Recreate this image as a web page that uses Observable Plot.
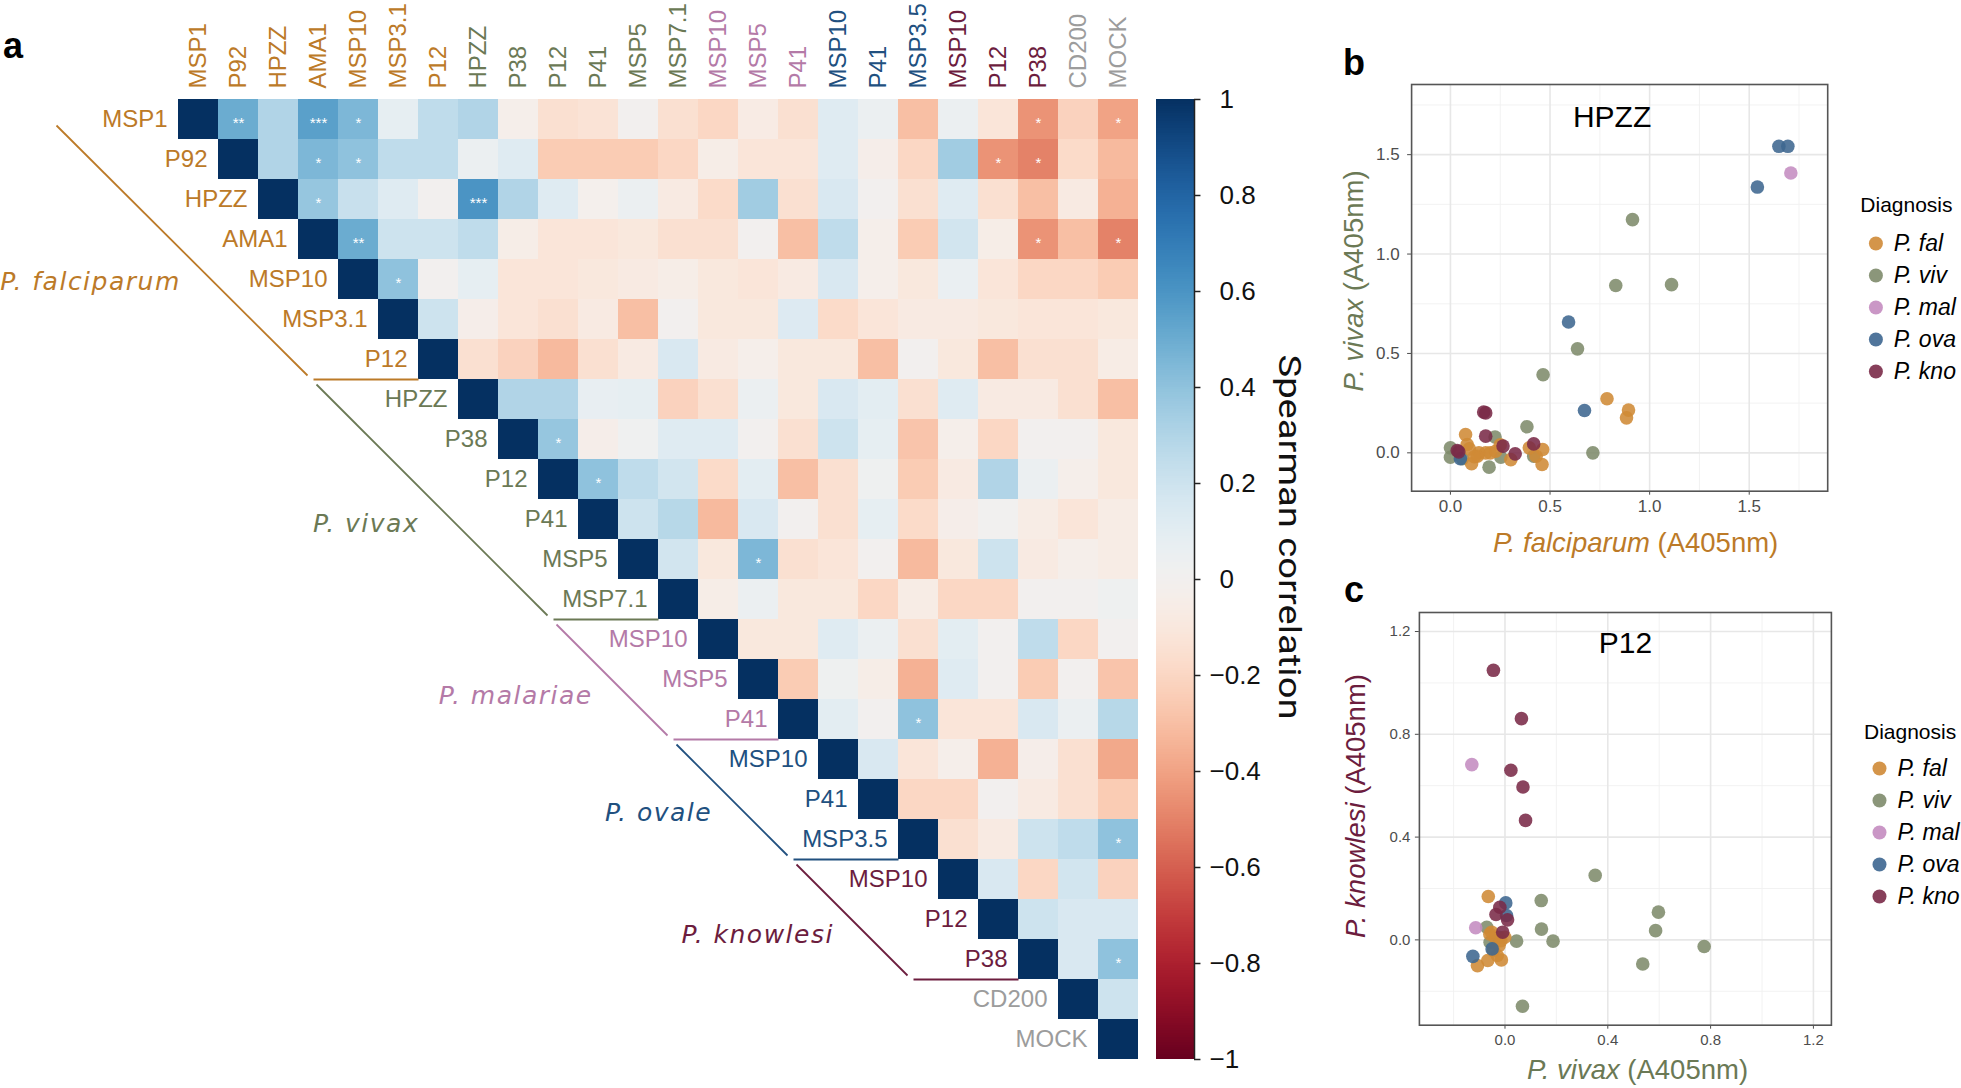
<!DOCTYPE html>
<html><head><meta charset="utf-8">
<script src="https://cdn.jsdelivr.net/npm/d3@7"></script>
<script src="https://cdn.jsdelivr.net/npm/@observablehq/plot@0.6"></script>
<style>
html,body{margin:0;padding:0;background:#fff;}
#root{position:relative;width:1961px;height:1088px;overflow:hidden;font-family:"Liberation Sans",Arial,sans-serif;background:#fff;}
#root svg{position:absolute;background:transparent;overflow:visible;max-width:none;}
.t{position:absolute;white-space:nowrap;line-height:1;}
</style></head><body><div id="root"></div>
<script>
// ---------------- DATA ----------------
const labels = ["MSP1","P92","HPZZ","AMA1","MSP10","MSP3.1","P12",
  "HPZZ","P38","P12","P41","MSP5","MSP7.1",
  "MSP10","MSP5","P41",
  "MSP10","P41","MSP3.5",
  "MSP10","P12","P38",
  "CD200","MOCK"];
const species = ["P. falciparum","P. vivax","P. malariae","P. ovale","P. knowlesi",""];
const speciesSize = [7,6,3,3,3,2];

// upper triangle of Spearman correlations, row r holds columns r+1..23
const corr = [
  [0.5,0.3,0.55,0.45,0.08,0.25,0.3,-0.03,-0.15,-0.13,0.0,-0.15,-0.2,-0.07,-0.15,0.12,0.05,-0.3,0.05,-0.12,-0.45,-0.22,-0.4],
  [0.3,0.45,0.4,0.25,0.25,0.05,0.12,-0.25,-0.25,-0.25,-0.2,-0.05,-0.12,-0.12,0.12,-0.04,-0.2,0.35,-0.45,-0.5,-0.18,-0.32],
  [0.38,0.22,0.12,0.0,0.6,0.3,0.12,-0.02,0.05,-0.08,-0.18,0.35,-0.15,0.15,0.0,-0.15,0.12,-0.15,-0.3,-0.08,-0.35],
  [0.5,0.2,0.2,0.25,-0.05,-0.12,-0.12,-0.1,-0.15,-0.15,0.0,-0.3,0.25,-0.03,-0.25,0.18,-0.05,-0.45,-0.3,-0.5],
  [0.4,0.0,0.08,-0.12,-0.12,-0.1,-0.08,-0.05,-0.1,-0.12,-0.08,0.15,-0.03,-0.1,0.06,-0.12,-0.2,-0.2,-0.25],
  [0.2,-0.04,-0.12,-0.15,-0.08,-0.3,0.0,-0.1,-0.1,0.13,-0.18,-0.12,-0.08,-0.08,-0.1,-0.12,-0.12,-0.1],
  [-0.15,-0.22,-0.32,-0.15,-0.08,0.15,-0.08,-0.03,-0.1,-0.1,-0.3,0.0,-0.1,-0.3,-0.15,-0.15,-0.06],
  [0.3,0.3,0.07,0.08,-0.22,-0.15,0.05,-0.1,0.15,0.1,-0.15,0.12,-0.08,-0.08,-0.15,-0.3],
  [0.38,-0.04,0.02,0.12,0.12,0.0,-0.15,0.2,0.08,-0.28,-0.03,-0.2,0.0,0.0,-0.1],
  [0.4,0.25,0.18,-0.18,0.1,-0.3,-0.15,0.03,-0.25,-0.08,0.3,0.05,-0.03,-0.1],
  [0.2,0.28,-0.32,0.15,0.0,-0.15,0.08,-0.18,-0.04,0.01,-0.06,-0.12,-0.06],
  [0.18,-0.1,0.45,-0.15,-0.12,0.0,-0.32,-0.1,0.2,-0.08,-0.03,-0.06],
  [-0.05,0.05,-0.1,-0.1,-0.2,-0.06,-0.2,-0.2,0.0,0.0,0.03],
  [-0.1,-0.1,0.12,0.05,-0.15,0.1,0.0,0.25,-0.2,0.0],
  [-0.25,0.03,-0.05,-0.35,0.12,0.0,-0.25,0.0,-0.28],
  [0.1,0.0,0.4,-0.12,-0.12,0.15,0.05,0.28],
  [0.15,-0.12,-0.03,-0.35,-0.04,-0.15,-0.38],
  [-0.2,-0.2,0.0,-0.08,-0.15,-0.25],
  [-0.15,-0.08,0.2,0.25,0.4],
  [0.15,-0.2,0.18,-0.22],
  [0.2,0.15,0.15],
  [0.15,0.4],
  [0.2]
];
// significance marks: [row, column, stars]
const signif = [[0,1,"**"],[0,3,"***"],[0,4,"*"],[0,21,"*"],[0,23,"*"],
  [1,3,"*"],[1,4,"*"],[1,20,"*"],[1,21,"*"],[2,3,"*"],[2,7,"***"],
  [3,4,"**"],[3,21,"*"],[3,23,"*"],[4,5,"*"],[8,9,"*"],[9,10,"*"],
  [11,14,"*"],[15,18,"*"],[18,23,"*"],[21,23,"*"]];
const cbTicks = [-1,-0.8,-0.6,-0.4,-0.2,0,0.2,0.4,0.6,0.8,1];

// scatter data (A405nm)
const diagnoses = ["P. fal","P. viv","P. mal","P. ova","P. kno"];
const bFal = [[0.786,0.272],[0.894,0.215],[0.884,0.176],[0.084,0.042],[0.106,-0.055],[0.463,0.017],[0.46,-0.059],[0.303,-0.034],[0.43,-0.017],[0.396,0.025],[0.143,0.0],[0.177,0.0],[0.2,0.0],[0.135,-0.017],[0.095,0.02],[0.227,0.008],[0.12,-0.02],[0.25,0.04],[0.076,0.092]];
const bViv = [[0.914,1.173],[0.83,0.842],[1.11,0.846],[0.638,0.523],[0.465,0.393],[0.384,0.131],[0.715,0.0],[0.224,0.08],[0.194,-0.072],[0.0,0.025],[0.0,-0.022],[0.253,-0.022],[0.06,-0.03],[0.418,-0.017]];
const bMal = [[1.709,1.408]];
const bOva = [[1.649,1.542],[1.694,1.542],[1.541,1.337],[0.593,0.658],[0.673,0.213],[0.05,-0.03]];
const bKno = [[0.177,0.201],[0.167,0.205],[0.177,0.084],[0.264,0.034],[0.325,-0.005],[0.418,0.045],[0.034,0.012],[0.042,0.005]];
const cFal = [[-0.065,0.169],[-0.059,0.023],[-0.038,0.01],[-0.016,-0.003],[-0.001,0.01],[-0.045,-0.042],[-0.03,-0.061],[-0.067,-0.08],[-0.107,-0.1],[-0.014,-0.078],[-0.023,-0.022],[-0.052,0.03]];
const cViv = [[0.351,0.251],[0.141,0.153],[0.597,0.108],[0.586,0.036],[0.142,0.042],[0.187,-0.005],[0.045,-0.005],[0.775,-0.026],[0.536,-0.094],[0.068,-0.258],[-0.071,0.049],[-0.058,-0.009],[-0.023,0.01]];
const cMal = [[-0.129,0.682],[-0.114,0.047]];
const cOva = [[0.003,0.144],[-0.125,-0.064],[0.006,0.095],[-0.05,-0.035]];
const cKno = [[-0.045,1.049],[0.064,0.861],[0.023,0.66],[0.07,0.595],[0.08,0.465],[-0.02,0.127],[-0.035,0.099],[0.01,0.078],[-0.009,0.03]];

// ---------------- STYLE / LAYOUT ----------------
const speciesColor = ["#bc7a28","#6b7955","#b47aa7","#21507f","#6c1d3e","#9c9c9c"];
const diagColor = ["#cf8a36","#7e8b6b","#c48cc0","#3d6690","#7a2a48"];
const speciesLabelAt = [[-2.2,4.55],[4.69,10.6],[8.43,14.9],[12.0,17.83],[14.48,20.88]];
const root = document.getElementById("root");
function place(el, left, top){
  el.style.position="absolute"; el.style.left=left+"px"; el.style.top=top+"px";
  el.style.background="transparent"; el.style.overflow="visible";
  root.appendChild(el);
}
function txt(html, cx, cy, size, color, opts={}){
  const d=document.createElement("div"); d.className="t"; d.innerHTML=html;
  d.style.left=cx+"px"; d.style.top=cy+"px"; d.style.fontSize=size+"px"; d.style.color=color;
  d.style.transform=`translate(-50%,-50%)${opts.rot?` rotate(${opts.rot}deg)`:""}`;
  if(opts.bold) d.style.fontWeight="bold";
  if(opts.family) d.style.fontFamily=opts.family;
  root.appendChild(d);
}

// ---------------- HEATMAP ----------------
const groupOf = [];
speciesSize.forEach((n,g)=>{for(let k=0;k<n;k++) groupOf.push(g);});
const cells = [];
for(let r=0;r<24;r++) for(let c=r;c<24;c++) cells.push({r,c,v: c===r?1:corr[r][c-r-1]});
const rowsData = labels.map((l,i)=>({l,i,g:groupOf[i]}));
let acc=0;
const bounds = speciesSize.map(n=>{const b={r0:acc,r1:acc+n-1}; acc+=n; return b;});
const groupLines = [];
for(let g=0; g<5; g++){
  const b=bounds[g], xh=b.r1-2.625, yb=b.r1+1;
  const st = g===0 ? {x:-3.05,y:0.65} : {x:bounds[g-1].r1-2.625+0.075, y:bounds[g-1].r1+1+0.125};
  groupLines.push({g, x1:xh, y1:yb, x2:b.r1, y2:yb});
  groupLines.push({g, x1:st.x, y1:st.y, x2:xh-0.15, y2:yb-0.1});
}
const colorScale = {type:"linear", scheme:"RdBu", domain:[-1,1]};
const heat = Plot.plot({
  width:1140, height:1088, margin:0,
  x:{domain:[0,24], range:[178,1138], axis:null},
  y:{domain:[0,24], range:[99,1059], axis:null},
  color: colorScale,
  style:{fontFamily:"Liberation Sans, Arial, sans-serif", background:"transparent", overflow:"visible"},
  marks:[
    Plot.rect(cells,{x1:d=>d.c, x2:d=>d.c+1, y1:d=>d.r, y2:d=>d.r+1, fill:"v", shapeRendering:"crispEdges"}),
    Plot.text(signif,{x:d=>d[1]+0.5, y:d=>d[0]+0.5, text:d=>d[2], fill:"white", fontSize:15, dy:4}),
    ...speciesColor.map((col,g)=>Plot.text(rowsData.filter(d=>d.g===g),{x:d=>d.i, y:d=>d.i+0.5, text:"l", textAnchor:"end", dx:-11, fill:col, fontSize:24})),
    ...speciesColor.map((col,g)=>Plot.text(rowsData.filter(d=>d.g===g),{x:d=>d.i+0.5, y:0, text:"l", rotate:-90, textAnchor:"start", dy:-11, fill:col, fontSize:24})),
    ...[0,1,2,3,4].map(g=>Plot.link(groupLines.filter(d=>d.g===g),{x1:"x1",y1:"y1",x2:"x2",y2:"y2", stroke:speciesColor[g], strokeWidth:1.8})),
    ...[0,1,2,3,4].map(g=>Plot.text([species[g]],{x:speciesLabelAt[g][0], y:speciesLabelAt[g][1], text:d=>d, fill:speciesColor[g], fontSize:25, fontStyle:"italic", fontFamily:"DejaVu Sans, Verdana, sans-serif"}))
  ]
});
d3.select(heat).selectAll("text").filter(function(){return this.textContent.startsWith("P. ");}).style("letter-spacing","1.5px");
place(heat,0,0);

// ---------------- COLORBAR ----------------
const cbSteps = d3.range(-1,1,0.005);
const fmt = d3.format("~f");
const cbar = Plot.plot({
  width:200, height:1088, marginLeft:16, marginRight:146, marginTop:99, marginBottom:29,
  x:{domain:[0,1], axis:null}, y:{domain:[-1,1], axis:null},
  color: colorScale,
  style:{fontFamily:"Liberation Sans, Arial, sans-serif", background:"transparent", overflow:"visible"},
  marks:[
    Plot.rect(cbSteps,{x1:0, x2:1, y1:d=>d, y2:d=>d+0.005, fill:d=>d+0.0025, shapeRendering:"crispEdges"}),
    Plot.ruleX([1],{stroke:"#222", strokeWidth:1.5}),
    Plot.ruleY(cbTicks,{y:d=>d, x1:1, x2:1.17, stroke:"#222", strokeWidth:1.5}),
    Plot.text(cbTicks.filter(d=>d>=0),{y:d=>d, x:1, dx:25, textAnchor:"start", text:d=>fmt(d), fontSize:26, fill:"#111"}),
    Plot.text(cbTicks.filter(d=>d<0),{y:d=>d, x:1, dx:15, textAnchor:"start", text:d=>fmt(d), fontSize:26, fill:"#111"}),
    Plot.text(["Spearman correlation"],{frameAnchor:"right", dx:94, dy:-225, rotate:90, textAnchor:"start", text:d=>d, fontSize:31, fontFamily:"Roboto, sans-serif", fill:"#111"})
  ]
});
d3.select(cbar).selectAll("text").filter(function(){return this.textContent==="Spearman correlation";})
  .attr("textLength",365).attr("lengthAdjust","spacingAndGlyphs");
place(cbar,1140,0);

// ---------------- SCATTERS ----------------
function scatter(sets, o){
  const toObj = a => a.map(p=>({x:p[0], y:p[1]}));
  const order = [1,0,3,2,4];
  return Plot.plot({
    width:o.w, height:o.h, marginLeft:o.ml, marginRight:o.mr, marginTop:o.mt, marginBottom:o.mb,
    x:{domain:o.xd, ticks:o.ticks, tickFormat:".1f", tickSize:4, tickPadding:5, label:null},
    y:{domain:o.yd, ticks:o.ticks, tickFormat:".1f", tickSize:4, tickPadding:o.ypad, label:null},
    style:{fontFamily:"Liberation Sans, Arial, sans-serif", fontSize:o.fs+"px", color:"#4d4d4d", background:"transparent", overflow:"visible"},
    marks:[
      Plot.ruleX(o.minor,{stroke:"#f1f1f1", strokeWidth:0.9}),
      Plot.ruleY(o.minor,{stroke:"#f1f1f1", strokeWidth:0.9}),
      Plot.ruleX(o.ticks,{stroke:"#e7e7e7", strokeWidth:1.6}),
      Plot.ruleY(o.ticks,{stroke:"#e7e7e7", strokeWidth:1.6}),
      ...order.map(i=>Plot.dot(toObj(sets[i]),{x:"x", y:"y", r:6.8, fill:diagColor[i], fillOpacity:0.88, stroke:"none"})),
      Plot.frame({stroke:"#555", strokeWidth:1.6}),
      Plot.text([o.title],{frameAnchor:"top", lineAnchor:"middle", dx:o.tdx, dy:o.tdy, text:d=>d, fontSize:30, fill:"#000"})
    ]
  });
}
const sb = scatter([bFal,bViv,bMal,bOva,bKno],{w:492,h:500,ml:71.1,mr:4.8,mt:24,mb:69.3,
  xd:[-0.195,1.894], yd:[-0.193,1.853], ticks:[0,0.5,1,1.5], minor:[0.25,0.75,1.25,1.75], fs:17, ypad:8,
  title:"HPZZ", tdx:-7.6, tdy:32.7});
place(sb,1340,60);
const sc = scatter([cFal,cViv,cMal,cOva,cKno],{w:496,h:498,ml:78.9,mr:5.1,mt:22,mb:63.3,
  xd:[-0.333,1.270], yd:[-0.332,1.274], ticks:[0,0.4,0.8,1.2], minor:[-0.2,0.2,0.6,1.0], fs:15, ypad:5,
  title:"P12", tdx:0, tdy:31});
place(sc,1340,590);

function legend(yr, tdx, tdy, ddx, tx){
  return Plot.plot({
    width:111, height:215, margin:0,
    x:{domain:[0,1], axis:null},
    y:{type:"point", domain:diagnoses, range:yr, padding:0, axis:null},
    style:{fontFamily:"Liberation Sans, Arial, sans-serif", background:"transparent", overflow:"visible"},
    marks:[
      Plot.text(["Diagnosis"],{frameAnchor:"top-left", dx:tdx, dy:tdy, lineAnchor:"middle", textAnchor:"start", text:d=>d, fontSize:21, fill:"#000"}),
      ...diagnoses.map((d,i)=>Plot.dot([d],{y:v=>v, frameAnchor:"left", dx:ddx, r:7, fill:diagColor[i], fillOpacity:0.9})),
      Plot.text(diagnoses,{y:d=>d, frameAnchor:"left", dx:tx, textAnchor:"start", text:d=>d, fontSize:23, fontStyle:"italic", fill:"#000"})
    ]
  });
}
place(legend([57.7,186.7],9.8,20,25.4,43.2),1850,185);
place(legend([56.3,184.7],13.5,19.7,29,46.9),1850,712);

// ---------------- HTML TEXT ----------------
txt("a",13,46,36,"#000",{bold:true});
txt("b",1354,63,36,"#000",{bold:true});
txt("c",1354,590,36,"#000",{bold:true});
txt("<i>P. falciparum</i> (A405nm)",1635.6,543,27.5,speciesColor[0]);
txt("<i>P. vivax</i> (A405nm)",1354,281,27.5,speciesColor[1],{rot:-90});
txt("<i>P. knowlesi</i> (A405nm)",1356,806,27.5,speciesColor[4],{rot:-90});
txt("<i>P. vivax</i> (A405nm)",1637.5,1070,27.5,speciesColor[1]);
</script></body></html>
